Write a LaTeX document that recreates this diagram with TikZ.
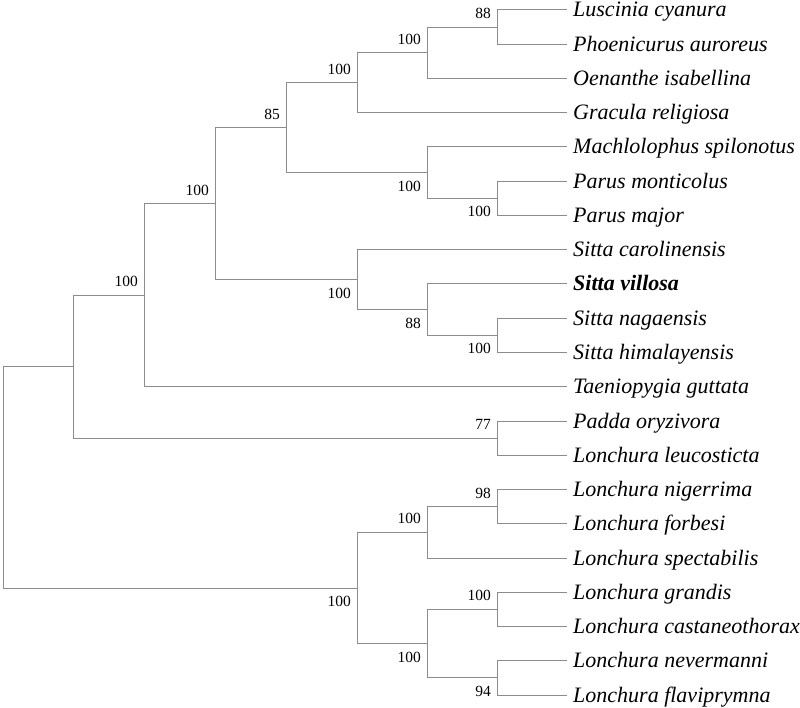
\documentclass[tikz,border=0pt]{standalone}
\usepackage{fontspec}
\setmainfont{Liberation Serif}
\begin{document}
\begin{tikzpicture}[x=1pt,y=-1pt,
  branch/.style={draw=black!45,line width=1pt},
  taxon/.style={anchor=base west,inner sep=0pt,font=\fontsize{22}{22}\selectfont\itshape},
  bsa/.style={anchor=east,inner sep=0pt,font=\fontsize{15.5}{15.5}\selectfont,yshift=-13.5pt,xshift=-6pt},
  bsb/.style={anchor=east,inner sep=0pt,font=\fontsize{15.5}{15.5}\selectfont,yshift=13.5pt,xshift=-6pt}]
\useasboundingbox (0,0) rectangle (800,708);
% leaf line ends
\foreach \i/\t in {0/Luscinia cyanura,1/Phoenicurus auroreus,2/Oenanthe isabellina,3/Gracula religiosa,4/Machlolophus spilonotus,5/Parus monticolus,6/Parus major,7/Sitta carolinensis,9/Sitta nagaensis,10/Sitta himalayensis,11/Taeniopygia guttata,12/Padda oryzivora,13/Lonchura leucosticta,14/Lonchura nigerrima,15/Lonchura forbesi,16/Lonchura spectabilis,17/Lonchura grandis,18/Lonchura castaneothorax,19/Lonchura nevermanni,20/Lonchura flaviprymna}{
  \coordinate (L\i) at (567,{10+34.25*\i});
  \node[taxon] (T\i) at (573,{17+34.25*\i}) {\t};
}
\coordinate (L8) at (567,{10+34.25*8});
\node[taxon,font=\fontsize{22}{22}\selectfont\itshape\bfseries] (T8) at (573,{17+34.25*8}) {Sitta villosa};
% internal nodes
\coordinate (n1) at (497,27.1);
\coordinate (n2) at (427,52.8);
\coordinate (n3) at (357,82.8);
\coordinate (n4) at (497,198.4);
\coordinate (n5) at (427,172.7);
\coordinate (n6) at (286,127.7);
\coordinate (n7) at (497,335.4);
\coordinate (n8) at (427,309.7);
\coordinate (n9) at (357,279.7);
\coordinate (n10) at (215,203.7);
\coordinate (n11) at (144,295.2);
\coordinate (n12) at (497,438.1);
\coordinate (n13) at (73,366.7);
\coordinate (n14) at (497,506.6);
\coordinate (n15) at (427,532.3);
\coordinate (n16) at (497,609.4);
\coordinate (n17) at (497,677.9);
\coordinate (n18) at (427,643.6);
\coordinate (n19) at (357,588);
\coordinate (root) at (3,477.3);
% branches
\foreach \p/\c in {n1/L0,n1/L1,n2/n1,n2/L2,n3/n2,n3/L3,n4/L5,n4/L6,n5/L4,n5/n4,n6/n3,n6/n5,n7/L9,n7/L10,n8/L8,n8/n7,n9/L7,n9/n8,n10/n6,n10/n9,n11/n10,n11/L11,n12/L12,n12/L13,n13/n11,n13/n12,n14/L14,n14/L15,n15/n14,n15/L16,n16/L17,n16/L18,n17/L19,n17/L20,n18/n16,n18/n17,n19/n15,n19/n18,root/n13,root/n19}{
  \draw[branch] (\p) |- (\c);
}
% bootstrap values
\node[bsb] (b1) at (n1) {88};
\node[bsb] (b2) at (n2) {100};
\node[bsb] (b3) at (n3) {100};
\node[bsa] (b4) at (n4) {100};
\node[bsa] (b5) at (n5) {100};
\node[bsb] (b6) at (n6) {85};
\node[bsa] (b7) at (n7) {100};
\node[bsa] (b8) at (n8) {88};
\node[bsa] (b9) at (n9) {100};
\node[bsb] (b10) at (n10) {100};
\node[bsb] (b11) at (n11) {100};
\node[bsb] (b12) at (n12) {77};
\node[bsb] (b14) at (n14) {98};
\node[bsb] (b15) at (n15) {100};
\node[bsb] (b16) at (n16) {100};
\node[bsa] (b17) at (n17) {94};
\node[bsa] (b18) at (n18) {100};
\node[bsa] (b19) at (n19) {100};
\end{tikzpicture}
\end{document}
